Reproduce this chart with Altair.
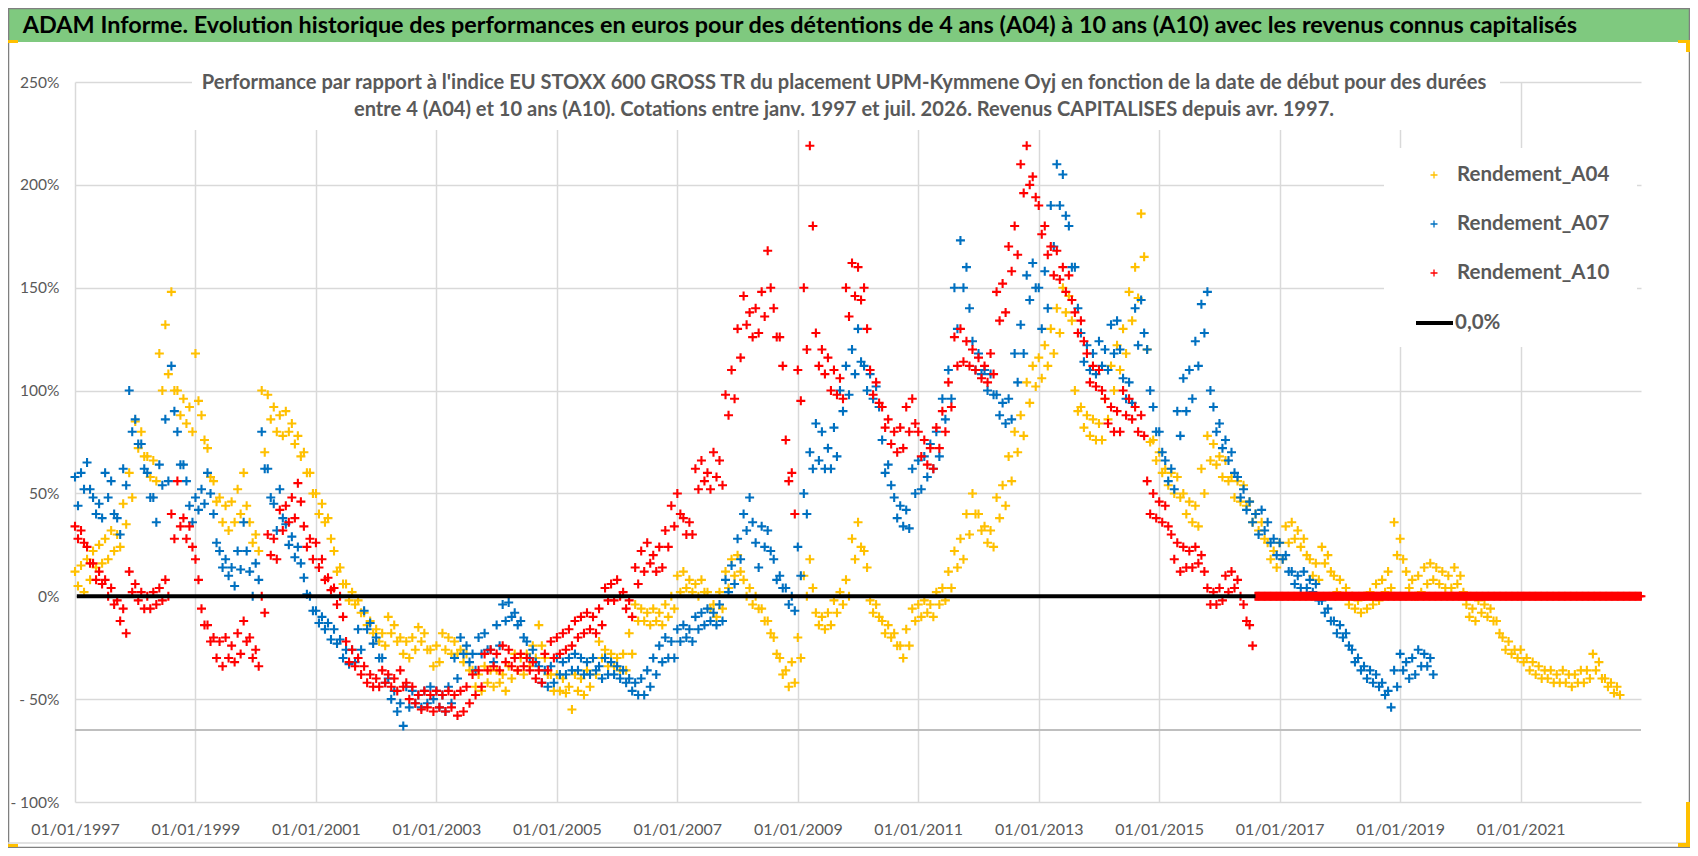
import altair as alt
import numpy as np
import pandas as pd

# ---- chart text -----------------------------------------------------------
TITLE = ("ADAM Informe. Evolution historique des performances en euros pour des "
         "détentions de 4 ans (A04) à 10 ans (A10) avec les revenus connus capitalisés")
SUBTITLE_1 = ("Performance par rapport à l'indice EU STOXX 600 GROSS TR  du placement "
              "UPM-Kymmene Oyj en fonction de la date de début pour des durées")
SUBTITLE_2 = ("entre 4 (A04) et 10 ans (A10). Cotations entre janv. 1997 et juil. 2026. "
              "Revenus CAPITALISES depuis avr. 1997.")

SERIES = ["Rendement_A04", "Rendement_A07", "Rendement_A10"]
COLORS = ["#FFC000", "#0070C0", "#FF0000"]
ZERO_LABEL = "0,0%"

X_TICK_YEARS = [1997, 1999, 2001, 2003, 2005, 2007, 2009, 2011, 2013, 2015, 2017, 2019, 2021]
Y_TICKS = [-100, -50, 0, 50, 100, 150, 200, 250]
AXIS_CROSS = [-65]

# ---- data: performance in %, one reading every 0.05 year from 01/01/1997 ----
SAMPLE_START = "1997-01-01"
SAMPLE_STEP_YEARS = 0.05

A04 = [
    12, 5, 15, 2, 18, 8, 22, 14, 25, 16, 28, 18, 32, 22, 30, 24, 45, 35, 60, 48,                 # 1997
    85, 72, 80, 68, 68, 58, 66, 56, 118, 100, 132, 108, 148, 100, 100, 88, 96, 84, 92, 80,       # 1998
    118, 95, 88, 76, 72, 58, 56, 46, 48, 36, 44, 32, 46, 36, 52, 40, 60, 44, 36, 26,             # 1999
    30, 22, 100, 70, 98, 86, 92, 80, 88, 78, 90, 80, 84, 74, 78, 68, 70, 60, 60, 50,             # 2000
    50, 40, 45, 36, 38, 28, 22, 12, 14, 6, 6, -2, 2, -4, -2, -8, -8, -14, -12, -18,              # 2001
    -16, -22, -18, -24, -10, -18, -14, -22, -20, -28, -22, -30, -20, -26, -15, -22, -18, -26, -26, -34,  # 2002
    -24, -32, -18, -26, -20, -28, -22, -28, -26, -32, -28, -36, -36, -44, -38, -46, -34, -42, -36, -44,  # 2003
    -36, -42, -38, -46, -34, -40, -28, -36, -30, -38, -28, -34, -24, -30, -14, -24, -30, -38, -38, -46,  # 2004
    -38, -46, -40, -47, -44, -55, -38, -46, -40, -48, -36, -44, -30, -38, -22, -30, -26, -34, -28, -34,  # 2005
    -30, -36, -28, -36, -18, -28, -4, -12, -6, -12, -8, -14, -6, -12, -8, -14, -4, -10, 0, -6,  # 2006
    10, 2, 12, 4, 8, 2, 6, 0, 8, 2, 2, -6, -4, -10, 2, -6, 12, 4, 18, 10,                        # 2007
    20, 12, 8, 0, 4, -4, 0, -6, -6, -12, -12, -18, -20, -28, -30, -38, -36, -44, -32, -42,       # 2008
    -20, -30, 10, 0, 18, 4, -8, -14, -10, -16, -8, -14, -2, -8, 2, -4, 8, 0, 28, 18,             # 2009
    36, 24, 22, 14, -2, -8, -4, -10, -12, -18, -14, -20, -18, -24, -24, -30, -16, -24, -6, -12,  # 2010
    -4, -10, -2, -8, -4, -10, 2, -4, 4, -2, 12, 4, 22, 14, 28, 18, 40, 30, 50, 40,               # 2011
    40, 32, 34, 26, 32, 24, 48, 38, 54, 44, 68, 56, 80, 70, 88, 78, 104, 94, 112, 102,           # 2012
    116, 106, 122, 112, 130, 118, 140, 128, 150, 138, 146, 134, 100, 90, 92, 82, 88, 78, 86, 76,  # 2013
    84, 76, 96, 86, 112, 100, 122, 110, 130, 118, 148, 134, 160, 145, 186, 165, 120, 75, 76, 66,  # 2014
    70, 60, 62, 54, 60, 50, 58, 48, 50, 40, 46, 36, 44, 34, 62, 50, 78, 66, 74, 64,              # 2015
    68, 58, 66, 56, 58, 48, 56, 46, 54, 44, 46, 36, 40, 32, 36, 28, 26, 18, 22, 14,              # 2016
    26, 18, 34, 26, 36, 28, 32, 24, 28, 20, 18, 10, 16, 8, 24, 16, 20, 12, 10, 2,                # 2017
    8, 0, 4, -4, 0, -6, -2, -8, 0, -6, 2, -4, 6, -2, 8, 2, 12, 4, 36, 20,                        # 2018
    28, 18, 12, 4, 8, 0, 10, 2, 14, 6, 16, 8, 14, 6, 12, 4, 10, 4, 14, 6,                        # 2019
    10, 2, -4, -10, -6, -12, -2, -8, -4, -10, -6, -12, -12, -18, -20, -26, -22, -28, -26, -30,   # 2020
    -26, -32, -30, -36, -32, -38, -34, -40, -36, -40, -36, -42, -38, -42, -36, -42, -38, -44, -38, -42,  # 2021
    -36, -42, -36, -40, -28, -36, -32, -40, -40, -44, -42, -47, -44, -48,                        # 2022
]

A07 = [
    58, 44, 60, 52, 65, 52, 48, 40, 45, 38, 60, 48, 56, 40, 38, 30, 62, 54, 100, 80,            # 1997
    86, 74, 74, 62, 60, 48, 48, 36, 64, 54, 86, 56, 112, 90, 80, 64, 64, 56, 44, 36,             # 1998
    48, 42, 52, 45, 60, 50, 40, 26, 22, 14, 18, 10, 14, 5, 22, 13, 36, 22, 12, 0,                # 1999
    16, 8, 80, 62, 62, 48, 45, 32, 52, 38, 35, 25, 29, 19, 24, 16, 9, 1, 0, -7,                  # 2000
    -7, -13, -10, -16, -13, -21, -16, -23, -21, -30, -26, -33, -26, -32, -16, -26, -7, -16, -13, -23,  # 2001
    -20, -30, -30, -42, -40, -50, -46, -56, -52, -63, -44, -54, -46, -52, -48, -54, -46, -52, -44, -50,  # 2002
    -46, -54, -48, -56, -44, -52, -30, -40, -20, -28, -24, -32, -28, -36, -20, -28, -18, -26, -26, -32,  # 2003
    -14, -24, -4, -12, -3, -10, -8, -14, -12, -20, -22, -30, -26, -32, -34, -42, -36, -44, -34, -42,  # 2004
    -30, -38, -32, -38, -30, -36, -28, -36, -30, -38, -32, -38, -30, -36, -34, -40, -30, -38, -32, -38,  # 2005
    -34, -40, -36, -42, -40, -46, -42, -48, -40, -48, -36, -44, -30, -38, -24, -32, -20, -30, -22, -30,  # 2006
    -16, -22, -14, -20, -16, -22, -10, -16, -8, -14, -6, -12, -8, -14, -4, -12, 8, 2, 15, 6,    # 2007
    28, 18, 40, 32, 48, 36, 26, 14, 34, 24, 32, 22, 18, 8, 10, 4, 4, -4, 0, -7,                  # 2008
    24, 10, 50, 40, 70, 62, 84, 66, 80, 62, 72, 62, 82, 68, 100, 90, 112, 98, 120, 108,          # 2009
    130, 114, 112, 100, 108, 96, 102, 92, 76, 60, 64, 54, 48, 38, 44, 34, 42, 33, 62, 50,        # 2010
    66, 52, 68, 58, 74, 62, 80, 68, 96, 86, 110, 96, 150, 130, 173, 150, 160, 140, 124, 110,     # 2011
    118, 108, 110, 100, 108, 98, 98, 88, 94, 84, 96, 86, 118, 104, 132, 118, 156, 144, 162, 150,  # 2012
    150, 130, 158, 140, 190, 170, 210, 190, 205, 185, 180, 160, 160, 140, 128, 114, 122, 110, 118, 108,  # 2013
    124, 112, 120, 110, 132, 118, 134, 120, 106, 96, 104, 94, 140, 122, 144, 128, 120, 100, 92, 80,  # 2014
    80, 70, 66, 56, 62, 52, 90, 78, 106, 90, 110, 96, 124, 112, 142, 128, 148, 100, 92, 80,      # 2015
    84, 72, 76, 66, 70, 60, 58, 48, 52, 42, 46, 36, 40, 30, 42, 32, 36, 26, 28, 20,              # 2016
    26, 18, 20, 12, 12, 6, 10, 4, 12, 4, 8, 2, 6, -2, -2, -8, -6, -12, -12, -18,                 # 2017
    -14, -20, -18, -24, -26, -32, -30, -36, -34, -40, -36, -42, -38, -44, -42, -48, -46, -54, -36, -44,  # 2018
    -28, -36, -32, -40, -30, -38, -26, -34, -28, -34, -30, -38,                                  # 2019
]

A10 = [
    34, 28, 32, 26, 24, 16, 16, 8, 12, 6, 8, 0, 4, -4, -2, -12, -6, -18, 12, 2,                  # 1997
    6, -2, 2, -6, 0, -6, 2, -4, 4, -2, 8, 0, 40, 28, 56, 34, 38, 28, 34, 24,                     # 1998
    18, 8, -6, -14, -14, -22, -20, -30, -22, -34, -20, -30, -24, -32, -18, -28, -12, -22, -20, -30,  # 1999
    -26, -34, 0, -8, 30, 20, 28, 18, 42, 32, 44, 36, 48, 38, 55, 46, 34, 24, 28, 18,             # 2000
    26, 14, 18, 8, 9, 3, 4, -4, 0, -10, -22, -32, -26, -34, -30, -38, -34, -42, -38, -44,        # 2001
    -40, -44, -36, -42, -38, -44, -40, -46, -36, -44, -42, -50, -44, -52, -48, -55, -46, -54, -48, -56,  # 2002
    -46, -54, -48, -56, -46, -54, -48, -58, -46, -56, -44, -52, -38, -48, -36, -44, -28, -36, -26, -34,  # 2003
    -28, -36, -24, -32, -26, -34, -30, -36, -28, -34, -30, -36, -32, -40, -36, -42, -28, -36, -22, -30,  # 2004
    -20, -28, -18, -26, -16, -24, -12, -20, -10, -18, -8, -16, -10, -18, -6, -14, 4, -2, 6, -2,  # 2005
    8, 0, 2, -6, -2, -10, 14, 6, 22, 12, 26, 16, 20, 12, 24, 14, 32, 24, 44, 34,                 # 2006
    50, 40, 38, 30, 36, 30, 62, 52, 66, 56, 60, 52, 70, 58, 66, 54, 98, 88, 110, 96,             # 2007
    130, 116, 146, 132, 138, 126, 140, 128, 148, 136, 168, 150, 140, 126, 126, 112, 76, 56, 60, 40,  # 2008
    110, 95, 150, 120, 219, 180, 128, 112, 120, 108, 116, 100, 110, 98, 106, 96, 150, 136, 162, 146,  # 2009
    160, 144, 150, 130, 110, 98, 104, 94, 92, 82, 86, 74, 80, 70, 82, 72, 92, 80, 96, 84,        # 2010
    80, 68, 76, 64, 72, 62, 82, 72, 90, 80, 104, 92, 126, 112, 130, 114, 124, 112, 120, 110,     # 2011
    116, 106, 112, 104, 118, 108, 148, 134, 152, 138, 170, 158, 180, 166, 210, 196, 219, 200, 204, 194,  # 2012
    190, 176, 180, 166, 170, 156, 168, 154, 160, 148, 156, 144, 138, 128, 134, 124, 118, 104, 112, 102,  # 2013
    110, 100, 96, 84, 92, 80, 90, 80, 100, 88, 96, 86, 92, 80, 88, 78, 56, 40, 50, 38,           # 2014
    46, 36, 44, 34, 30, 18, 26, 12, 24, 14, 22, 14, 24, 16, 20, 12, 4, -4, 2, -4,                # 2015
    4, -2, 10, 2, 12, 4, 8, 0, -4, -12, -14, -24,                                                # 2016
]

# A10 has no 10-year result after mid-2016: the sheet plots it flat at 0 %,
# with daily points so dense that they form a solid red band
A10_FLAT_START = "2016-08-07"
A10_FLAT_STEP_YEARS = 0.02
A10_FLAT = [0.0] * 321

ZERO_LINE_DATES = ["1997-01-12", "2016-08-07"]
ZERO_LINE_VALUES = [0.0, 0.0]

# ---- styling --------------------------------------------------------------
FONT = "Lato"
GREY_TEXT = "#595959"
GRID = "#D9D9D9"
PLUS = "M-1,0H1M0,-1V1"
W, H = 1566, 720


def sampled(name, values, start=SAMPLE_START, step=SAMPLE_STEP_YEARS):
    offsets = pd.to_timedelta(np.arange(len(values)) * step * 365.25, unit="D")
    return pd.DataFrame({"date": pd.Timestamp(start) + offsets, "value": values, "series": name})


points = pd.concat([sampled(SERIES[0], A04), sampled(SERIES[1], A07), sampled(SERIES[2], A10),
                    sampled(SERIES[2], A10_FLAT, A10_FLAT_START, A10_FLAT_STEP_YEARS)],
                   ignore_index=True)
zero_line = pd.DataFrame({"date": pd.to_datetime(ZERO_LINE_DATES), "value": ZERO_LINE_VALUES})
cross = pd.DataFrame({"value": AXIS_CROSS})
one = pd.DataFrame({"k": [0]})

x_scale = alt.Scale(domain=[alt.DateTime(year=1997, month=1, date=1),
                            alt.DateTime(year=2023, month=1, date=1)])
y_scale = alt.Scale(domain=[-100, 250], nice=False, zero=False)

x_axis = alt.Axis(values=[alt.DateTime(year=y, month=1, date=1) for y in X_TICK_YEARS],
                  format="%d/%m/%Y", title=None, domain=False, ticks=False,
                  grid=True, gridColor=GRID, gridWidth=1.5, labelFlush=False,
                  labelOverlap=False, labelFont=FONT, labelFontSize=16,
                  labelColor=GREY_TEXT, labelPadding=19)
y_axis = alt.Axis(values=Y_TICKS, title=None, domain=False, ticks=False,
                  grid=True, gridColor=GRID, gridWidth=1.5,
                  labelExpr="datum.value < 0 ? '- ' + abs(datum.value) + '%' : datum.value + '%'",
                  labelFont=FONT, labelFontSize=15.5, labelColor=GREY_TEXT, labelPadding=16)

cross_rule = alt.Chart(cross).mark_rule(color="#BFBFBF", strokeWidth=2).encode(
    y=alt.Y("value:Q", scale=y_scale))

dots = alt.Chart(points).mark_point(shape=PLUS, filled=False, size=81, strokeWidth=2.1,
                                    opacity=1).encode(
    x=alt.X("date:T", scale=x_scale, axis=x_axis),
    y=alt.Y("value:Q", scale=y_scale, axis=y_axis),
    color=alt.Color("series:N", scale=alt.Scale(domain=SERIES, range=COLORS), legend=None))

zero = alt.Chart(zero_line).mark_line(color="black", strokeWidth=4).encode(
    x=alt.X("date:T", scale=x_scale), y=alt.Y("value:Q", scale=y_scale))


def box(x, x2, y, y2, **style):
    return alt.Chart(one).mark_rect(**style).encode(
        x=alt.value(x), x2=alt.value(x2), y=alt.value(y), y2=alt.value(y2))


def label(text, x, y, size, color=GREY_TEXT, align="left", weight="bold"):
    return alt.Chart(one).mark_text(text=text, align=align, baseline="middle", font=FONT,
                                    fontSize=size, fontWeight=weight, color=color).encode(
        x=alt.value(x), y=alt.value(y))


# title band, subtitle and legend backgrounds (they cover the grid like the sheet does)
layers = [cross_rule, dots, zero,
          box(117, 1425, -8, 48, color="white"),
          box(1309, 1562, 66, 265, color="white"),
          box(-67, 1615, -73, -40, color="#7FC97F"),
          label(TITLE, 725, -56, 23.4, color="black", align="center"),
          label(SUBTITLE_1, 769, 1, 20.1, align="center"),
          label(SUBTITLE_2, 769, 28, 20.1, align="center")]

legend_rows = [93, 142, 191]
for name, col, yy in zip(SERIES, COLORS, legend_rows):
    layers.append(alt.Chart(one).mark_point(shape=PLUS, filled=False, size=49, strokeWidth=1.3,
                                            color=col, opacity=1).encode(
        x=alt.value(1359), y=alt.value(yy)))
    layers.append(label(name, 1382, yy, 20.5))
layers.append(alt.Chart(one).mark_rule(color="black", strokeWidth=4).encode(
    x=alt.value(1341), x2=alt.value(1378), y=alt.value(241)))
layers.append(label(ZERO_LABEL, 1380, 241, 20.5))

# outer frame, bottom separator and the yellow selection handles of the sheet
layers += [box(-66.5, 1614.5, -73.5, 765.5, fillOpacity=0, stroke="#7F7F7F", strokeWidth=1.5),
           alt.Chart(one).mark_rule(color=GRID, strokeWidth=1.5).encode(
               x=alt.value(-67), x2=alt.value(1615), y=alt.value(761)),
           box(-67, -57, -42, -39, color="#FFC000"),
           box(-67, -57, 762, 765, color="#FFC000"),
           box(1603, 1615, -42, -39, color="#FFC000"),
           box(1611, 1615, -42, -30, color="#FFC000"),
           box(1611, 1615, 720, 765, color="#FFC000"),
           box(1603, 1615, 761, 765, color="#FFC000")]

chart = alt.layer(*layers).properties(
    width=W, height=H,
    padding={"left": 67, "top": 74, "right": 49, "bottom": 46},
    autosize=alt.AutoSizeParams(type="none"),
    background="white",
).configure_view(stroke=None)

chart.save("out.html", embed_options={"renderer": "svg", "actions": False})
